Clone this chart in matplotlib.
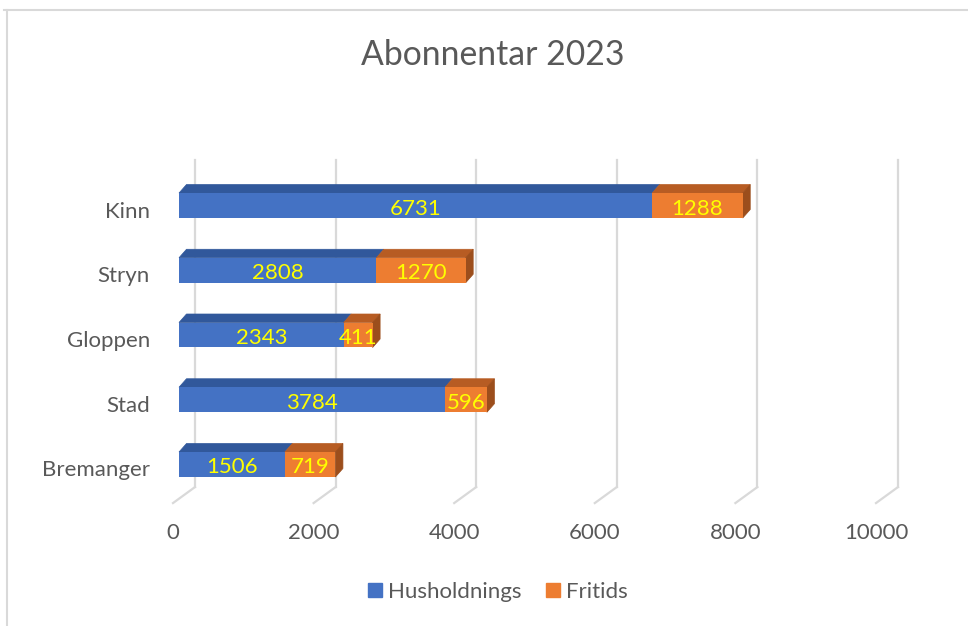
import matplotlib
matplotlib.use("Agg")
import matplotlib.pyplot as plt
from matplotlib.transforms import ScaledTranslation, blended_transform_factory
from matplotlib.patches import Polygon, Rectangle
from matplotlib.lines import Line2D
import numpy as np

plt.rcParams['font.family'] = ['Lato', 'DejaVu Sans']

# ---- data ----
categories = ["Bremanger", "Stad", "Gloppen", "Stryn", "Kinn"]
husholdnings = [1506, 3784, 2343, 2808, 6731]
fritids = [719, 596, 411, 1270, 1288]
series_names = ["Husholdnings", "Fritids"]
xticks = [0, 2000, 4000, 6000, 8000, 10000]
title = "Abonnentar 2023"

# ---- style ----
BLUE = "#4472C4"; BLUE_TOP = "#31589B"
ORANGE = "#ED7D31"; ORANGE_TOP = "#B75C23"; ORANGE_SIDE = "#9C4E1C"
TXT = "#595959"; GRID = "#D9D9D9"; LBL = "#FFFF00"
FS = 16

W, H, DPI = 968, 626, 100
fig = plt.figure(figsize=(W / DPI, H / DPI), dpi=DPI)

# axes: x 0 at px 179, 10000 at px 882; y px 140..510
ax_l, ax_r, ax_t, ax_b = 179, 882, 140, 510
ax = fig.add_axes([ax_l / W, (H - ax_b) / H, (ax_r - ax_l) / W, (ax_b - ax_t) / H])
ax.set_xlim(0, 10000)
ax.set_ylim(-0.703, 5.012)
ax.axis("off")

y = np.arange(len(categories))
bh = 0.386

def px(dx, dy):
    return ScaledTranslation(dx / DPI, dy / DPI, fig.dpi_scale_trans)

# back wall gridlines
bt = blended_transform_factory(ax.transData, ax.transAxes)
for v in xticks:
    ax.plot([v, v], [0.062, 0.946], color=GRID, lw=1.6, transform=bt + px(16, 0), clip_on=False, zorder=0)

# diagonal floor lines: from back wall to front edge
for v in xticks:
    p_back = bt.transform((v, 0.062)) + np.array([16, 0])
    p_front = p_back + np.array([-22, -16])
    fig.add_artist(Line2D([p_back[0] / W, p_front[0] / W], [p_back[1] / H, p_front[1] / H],
                          color=GRID, lw=1.6, transform=fig.transFigure, zorder=0))

# bars
ax.barh(y, husholdnings, height=bh, color=BLUE, zorder=3)
ax.barh(y, fritids, left=husholdnings, height=bh, color=ORANGE, zorder=3)

# 3D depth faces (pixel offset converted to data units)
fig.canvas.draw()
inv = ax.transData.inverted()
o = ax.transData.transform((0, 0))
d = inv.transform(o + np.array([7.5, 8.5])) - inv.transform(o)
ddx, ddy = d[0], d[1]

for yi, hv, fv in zip(y, husholdnings, fritids):
    top = yi + bh / 2
    bot = yi - bh / 2
    for left, right, col in [(0, hv, BLUE_TOP), (hv, hv + fv, ORANGE_TOP)]:
        ax.add_patch(Polygon([(left, top), (right, top), (right + ddx, top + ddy), (left + ddx, top + ddy)],
                             closed=True, facecolor=col, edgecolor=col, lw=0.5, zorder=2, clip_on=False))
    r = hv + fv
    ax.add_patch(Polygon([(r, bot), (r, top), (r + ddx, top + ddy), (r + ddx, bot + ddy)],
                         closed=True, facecolor=ORANGE_SIDE, edgecolor=ORANGE_SIDE, lw=0.5, zorder=2, clip_on=False))
    # data labels
    ax.text(hv / 2, yi, str(hv), ha="center", va="center", color=LBL, fontsize=FS,
            transform=ax.transData + px(0, -3), zorder=5)
    ax.text(hv + fv / 2, yi, str(fv), ha="center", va="center", color=LBL, fontsize=FS,
            transform=ax.transData + px(0, -3), zorder=5)

# category labels
for yi, c in zip(y, categories):
    ax.text(0, yi, c, ha="right", va="center", color=TXT, fontsize=FS,
            transform=ax.transData + px(-29, -6), clip_on=False)

# x tick labels at floor front
for v in xticks:
    ax.text(v, 0, f"{v}", ha="center", va="center", color=TXT, fontsize=FS,
            transform=bt + px(-6, (H - 533) - (H - ax_b)), clip_on=False)

# title
fig.text(493 / W, 1 - 55 / H, title, ha="center", va="center", color=TXT, fontsize=24.3)

# legend
handles = [Rectangle((0, 0), 1, 1, color=BLUE), Rectangle((0, 0), 1, 1, color=ORANGE)]
fig.legend(handles, series_names, loc="center", bbox_to_anchor=(498 / W, 1 - 592 / H), ncol=2,
           frameon=False, fontsize=FS, handlelength=0.62, handleheight=0.62, handletextpad=0.28,
           columnspacing=1.1, labelcolor=TXT)

# chart frame
fig.add_artist(Line2D([4 / W, 1], [1 - 10 / H, 1 - 10 / H], color=GRID, lw=1.5, transform=fig.transFigure))
fig.add_artist(Line2D([7 / W, 7 / W], [0, 1 - 10 / H], color=GRID, lw=1.5, transform=fig.transFigure))

fig.savefig("out.png", dpi=DPI)
